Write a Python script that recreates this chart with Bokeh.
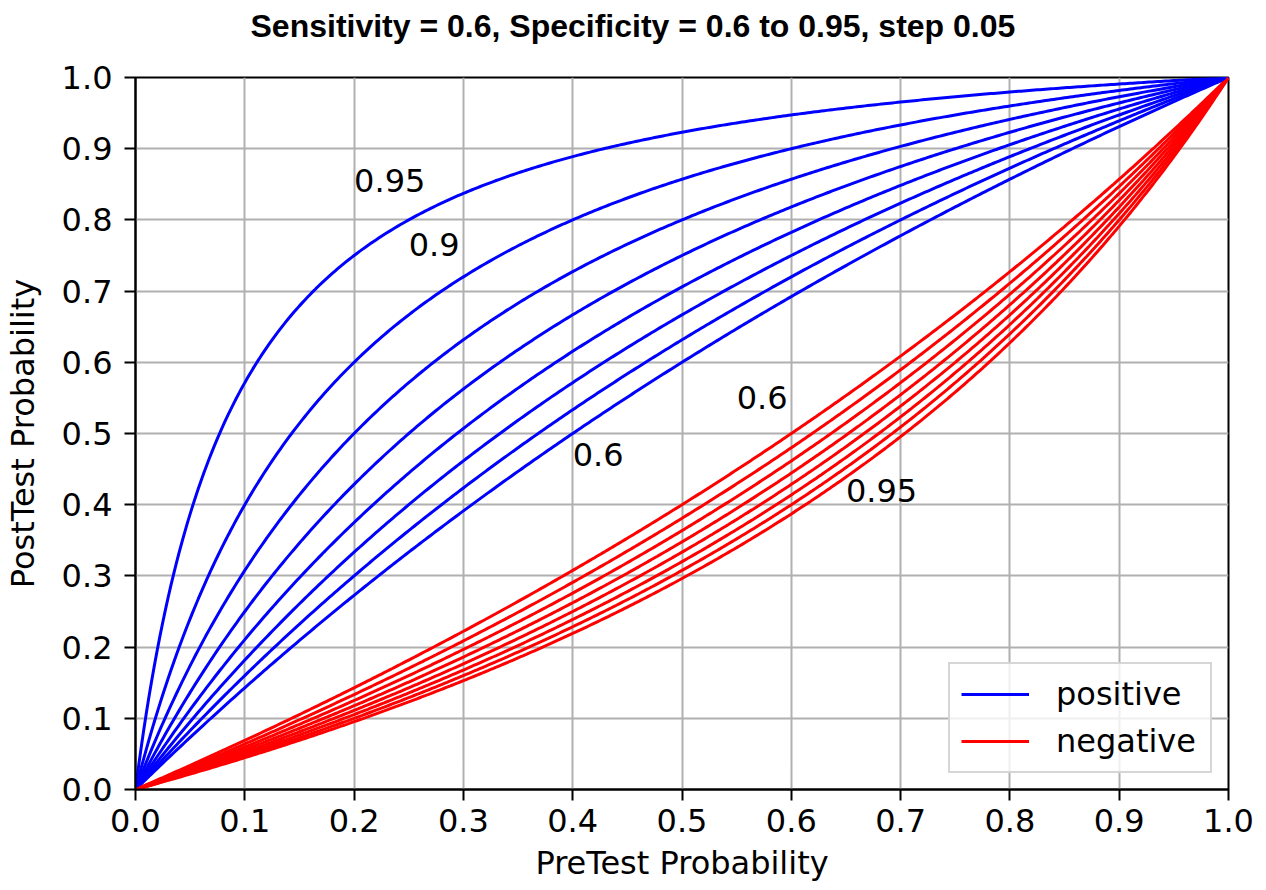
import numpy as np
from bokeh.plotting import figure
from bokeh.models import Range1d, FixedTicker, Legend, LegendItem, ColumnDataSource, Title
from bokeh.core.properties import value
from bokeh.embed import file_html
from bokeh.resources import INLINE

sensitivity = 0.6
specificities = [0.6, 0.65, 0.7, 0.75, 0.8, 0.85, 0.9, 0.95]
tick_values = [0.0, 0.1, 0.2, 0.3, 0.4, 0.5, 0.6, 0.7, 0.8, 0.9, 1.0]
tick_labels = ["0.0", "0.1", "0.2", "0.3", "0.4", "0.5", "0.6", "0.7", "0.8", "0.9", "1.0"]
annot_x = [0.2, 0.25, 0.4, 0.55, 0.65]
annot_y = [0.855, 0.765, 0.47, 0.55, 0.42]
annot_text = ["0.95", "0.9", "0.6", "0.6", "0.95"]
title_text = "Sensitivity = 0.6, Specificity = 0.6 to 0.95, step 0.05"

pretest = np.linspace(0.0, 1.0, 401)

FONT = "DejaVu Sans"
FS = "32px"

p = figure(width=1258, height=885, output_backend="svg", toolbar_location=None,
           x_range=Range1d(0, 1), y_range=Range1d(0, 1),
           min_border_left=133, min_border_right=30, min_border_top=77, min_border_bottom=96)

# spacer panel between the frame and the title (closest to the frame)
spacer = Title(text=" ", text_font_size="10px", standoff=21)
p.add_layout(spacer, "above")
main_title = Title(text=title_text, align="left", offset=115, vertical_align="bottom",
                   standoff=0, text_font="Liberation Sans", text_font_style="bold",
                   text_font_size="32px", text_color="black")
p.add_layout(main_title, "above")

pos_renderers = []
neg_renderers = []
for spec in specificities:
    pos = sensitivity * pretest / (sensitivity * pretest + (1 - spec) * (1 - pretest))
    neg = (1 - sensitivity) * pretest / ((1 - sensitivity) * pretest + spec * (1 - pretest))
    pos_renderers.append(p.line(pretest, pos, line_color="blue", line_width=3))
    neg_renderers.append(p.line(pretest, neg, line_color="red", line_width=3))

src = ColumnDataSource(dict(x=annot_x, y=annot_y, t=annot_text))
p.text(x="x", y="y", text="t", source=src, text_font=value(FONT), text_font_size=FS,
       text_align="left", text_baseline="alphabetic", text_color="black")

for ax in (p.xaxis, p.yaxis):
    ax.ticker = FixedTicker(ticks=tick_values)
    ax.major_label_overrides = {v: l for v, l in zip(tick_values, tick_labels)}
    ax.major_label_text_font = FONT
    ax.major_label_text_font_size = FS
    ax.major_label_text_color = "black"
    ax.axis_label_text_font = FONT
    ax.axis_label_text_font_size = FS
    ax.axis_label_text_font_style = "normal"
    ax.axis_label_text_color = "black"
    ax.axis_line_color = "black"
    ax.axis_line_width = 2
    ax.major_tick_line_color = "black"
    ax.major_tick_line_width = 2
    ax.major_tick_out = 11
    ax.major_tick_in = 0
    ax.minor_tick_line_color = None

p.xaxis.major_label_standoff = 8
p.yaxis.major_label_standoff = 12
p.xaxis.axis_label = "PreTest Probability"
p.yaxis.axis_label = "PostTest Probability"
p.xaxis.axis_label_standoff = 9
p.yaxis.axis_label_standoff = 17

p.xgrid.ticker = FixedTicker(ticks=tick_values)
p.ygrid.ticker = FixedTicker(ticks=tick_values)
p.grid.grid_line_color = "#b0b0b0"
p.grid.grid_line_width = 2

p.outline_line_color = "black"
p.outline_line_width = 2
p.outline_line_alpha = 1.0

legend = Legend(items=[LegendItem(label="positive", renderers=[pos_renderers[0]]),
                       LegendItem(label="negative", renderers=[neg_renderers[0]])],
                location="bottom_right")
legend.label_text_font = FONT
legend.label_text_font_size = FS
legend.label_text_color = "black"
legend.glyph_width = 68
legend.glyph_height = 30
legend.label_standoff = 27
legend.label_height = 30
legend.label_width = 143
legend.spacing = 9
legend.padding = 11
legend.margin = 16
legend.border_line_color = "#cccccc"
legend.border_line_width = 2
legend.border_line_alpha = 0.8
legend.background_fill_alpha = 0.8
p.add_layout(legend)

open("out.html", "w").write(file_html(p, INLINE))
